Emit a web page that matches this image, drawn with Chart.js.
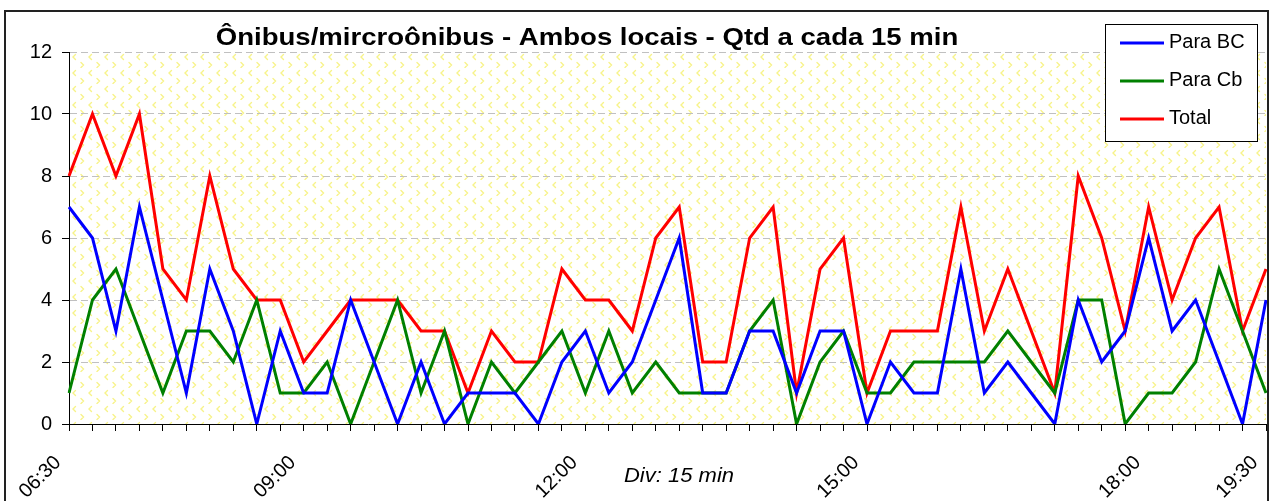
<!DOCTYPE html>
<html>
<head>
<meta charset="utf-8">
<script src="https://cdn.jsdelivr.net/npm/chart.js@4/dist/chart.umd.min.js"></script>
<style>
  html, body { margin: 0; padding: 0; background: #ffffff; overflow: hidden; }
  #wrap { position: relative; width: 1270px; height: 501px; }
  canvas { display: block; }
</style>
</head>
<body>
<div id="wrap"><canvas id="chart" width="1270" height="501"></canvas></div>
<script>
// Time labels along the category axis (only some slots carry a label)
const categories = [
  '06:30', '', '', '', '', '', '', '', '', '',
  '09:00', '', '', '', '', '', '', '', '', '', '', '',
  '12:00', '', '', '', '', '', '', '', '', '', '', '',
  '15:00', '', '', '', '', '', '', '', '', '', '', '',
  '18:00', '', '', '', '',
  '19:30'
];

// Vehicles counted per 15-minute slot
const paraBC = [7, 6, 3, 7, 4, 1, 5, 3, 0, 3, 1, 1, 4, 2, 0,
                2, 0, 1, 1, 1, 0, 2, 3, 1, 2, 4, 6, 1, 1, 3, 3, 1, 3, 3,
                0, 2, 1, 1, 5, 1, 2, 1, 0, 4, 2, 3, 6, 3, 4, 2, 0, 4];
const paraCb = [1, 4, 5, 3, 1, 3, 3, 2, 4, 1, 1, 2, 0, 2, 4,
                1, 3, 0, 2, 1, 2, 3, 1, 3, 1, 2, 1, 1, 1, 3, 4, 0, 2, 3,
                1, 1, 2, 2, 2, 2, 3, 2, 1, 4, 4, 0, 1, 1, 2, 5, 3, 1];
const total  = [8, 10, 8, 10, 5, 4, 8, 5, 4, 4, 2, 3, 4, 4, 4,
                3, 3, 1, 3, 2, 2, 5, 4, 4, 3, 6, 7, 2, 2, 6, 7, 1, 5, 6,
                1, 3, 3, 3, 7, 3, 5, 3, 1, 8, 6, 3, 7, 4, 6, 7, 3, 5];

const seriesNames = ['Para BC', 'Para Cb', 'Total'];
const seriesColors = ['#0000ff', '#008000', '#ff0000'];

const yMin = 0, yMax = 12, yStep = 2;

const chartTitle = 'Ônibus/mircroônibus - Ambos locais - Qtd a cada 15 min';
const xTitle = 'Div: 15 min';

const FONT = '"Liberation Sans", Arial, Helvetica, sans-serif';

// Tile with small pale-yellow chevrons used to fill the plot area
function makeChevronTile() {
  const t = document.createElement('canvas');
  t.width = 16; t.height = 16;
  const g = t.getContext('2d');
  g.strokeStyle = '#f7f38a';
  g.lineWidth = 1.4;
  g.lineCap = 'round';
  g.beginPath();
  g.moveTo(6.5, 2.5); g.lineTo(4, 5); g.lineTo(6.5, 7.5);
  g.stroke();
  g.beginPath();
  g.moveTo(12, 10.5); g.lineTo(14.5, 13); g.lineTo(12, 15.5);
  g.stroke();
  return t;
}

// Draws text squeezed/widened horizontally around an anchor point
function drawWideText(ctx, text, x, y, sx) {
  ctx.save();
  ctx.translate(x, y);
  ctx.scale(sx, 1);
  ctx.fillText(text, 0, 0);
  ctx.restore();
}

const framePlugin = {
  id: 'frame',
  beforeDraw(chart) {
    const ctx = chart.ctx;
    const a = chart.chartArea;
    ctx.save();
    ctx.fillStyle = '#ffffff';
    ctx.fillRect(0, 0, chart.width, chart.height);
    const pat = ctx.createPattern(makeChevronTile(), 'repeat');
    pat.setTransform(new DOMMatrix().translate(a.left, a.top));
    ctx.fillStyle = pat;
    ctx.fillRect(a.left, a.top, a.right - a.left, a.bottom - a.top);
    ctx.restore();
  },
  afterDraw(chart) {
    const ctx = chart.ctx;
    ctx.save();
    // outer frame
    ctx.strokeStyle = '#222222';
    ctx.lineWidth = 2;
    ctx.strokeRect(5, 11, 1263, 600);

    // chart title
    ctx.fillStyle = '#000000';
    ctx.font = 'bold 24px ' + FONT;
    ctx.textAlign = 'center';
    ctx.textBaseline = 'alphabetic';
    drawWideText(ctx, chartTitle, 587, 45, 1.148);

    // axis caption
    ctx.font = 'italic 20px ' + FONT;
    drawWideText(ctx, xTitle, 679, 482, 1.1);

    // legend box
    const lx = 1105.5, ly = 24.5, lw = 152, lh = 117;
    ctx.fillStyle = '#ffffff';
    ctx.fillRect(lx, ly, lw, lh);
    ctx.strokeStyle = '#000000';
    ctx.lineWidth = 1;
    ctx.strokeRect(lx, ly, lw, lh);
    ctx.font = '20px ' + FONT;
    ctx.textAlign = 'left';
    chart.data.datasets.forEach((ds, i) => {
      const yLine = 43 + i * 38;
      ctx.strokeStyle = ds.borderColor;
      ctx.lineWidth = 3;
      ctx.beginPath();
      ctx.moveTo(1120, yLine);
      ctx.lineTo(1164, yLine);
      ctx.stroke();
      ctx.fillStyle = '#000000';
      ctx.fillText(ds.label, 1169, yLine + 5);
    });
    ctx.restore();
  }
};

const datasets = [paraBC, paraCb, total].map((values, i) => ({
  label: seriesNames[i],
  data: values,
  borderColor: seriesColors[i],
  backgroundColor: seriesColors[i],
  borderWidth: 3,
  pointRadius: 0,
  tension: 0,
  fill: false
}));

new Chart(document.getElementById('chart'), {
  type: 'line',
  data: { labels: categories, datasets },
  options: {
    responsive: false,
    animation: false,
    devicePixelRatio: 1,
    layout: { padding: { left: 0, top: 52, right: 4, bottom: 0 } },
    plugins: {
      legend: { display: false },
      title: { display: false },
      tooltip: { enabled: false }
    },
    scales: {
      x: {
        offset: false,
        grid: {
          display: true,
          drawOnChartArea: false,
          drawTicks: true,
          tickLength: 7,
          tickColor: '#000000',
          tickWidth: 1
        },
        border: { display: true, color: '#000000', width: 1 },
        ticks: {
          autoSkip: false,
          minRotation: 45,
          maxRotation: 45,
          color: '#000000',
          padding: 20,
          labelOffset: -11,
          font: { family: FONT, size: 20 }
        },
        afterFit(scale) {
          scale.height = 77;
          scale.paddingLeft = 0;
          scale.paddingRight = 0;
        }
      },
      y: {
        min: yMin,
        max: yMax,
        ticks: {
          stepSize: yStep,
          color: '#000000',
          padding: 10,
          font: { family: FONT, size: 20 }
        },
        grid: {
          color: (c) => (c.tick && c.tick.value === yMin ? 'rgba(0,0,0,0)' : '#c0c0c0'),
          lineWidth: 1,
          tickLength: 7,
          tickColor: '#000000',
          tickBorderDash: []
        },
        border: { display: true, color: '#000000', width: 1, dash: [7, 4] },
        afterFit(scale) { scale.width = 69; }
      }
    }
  },
  plugins: [framePlugin]
});
</script>
</body>
</html>
